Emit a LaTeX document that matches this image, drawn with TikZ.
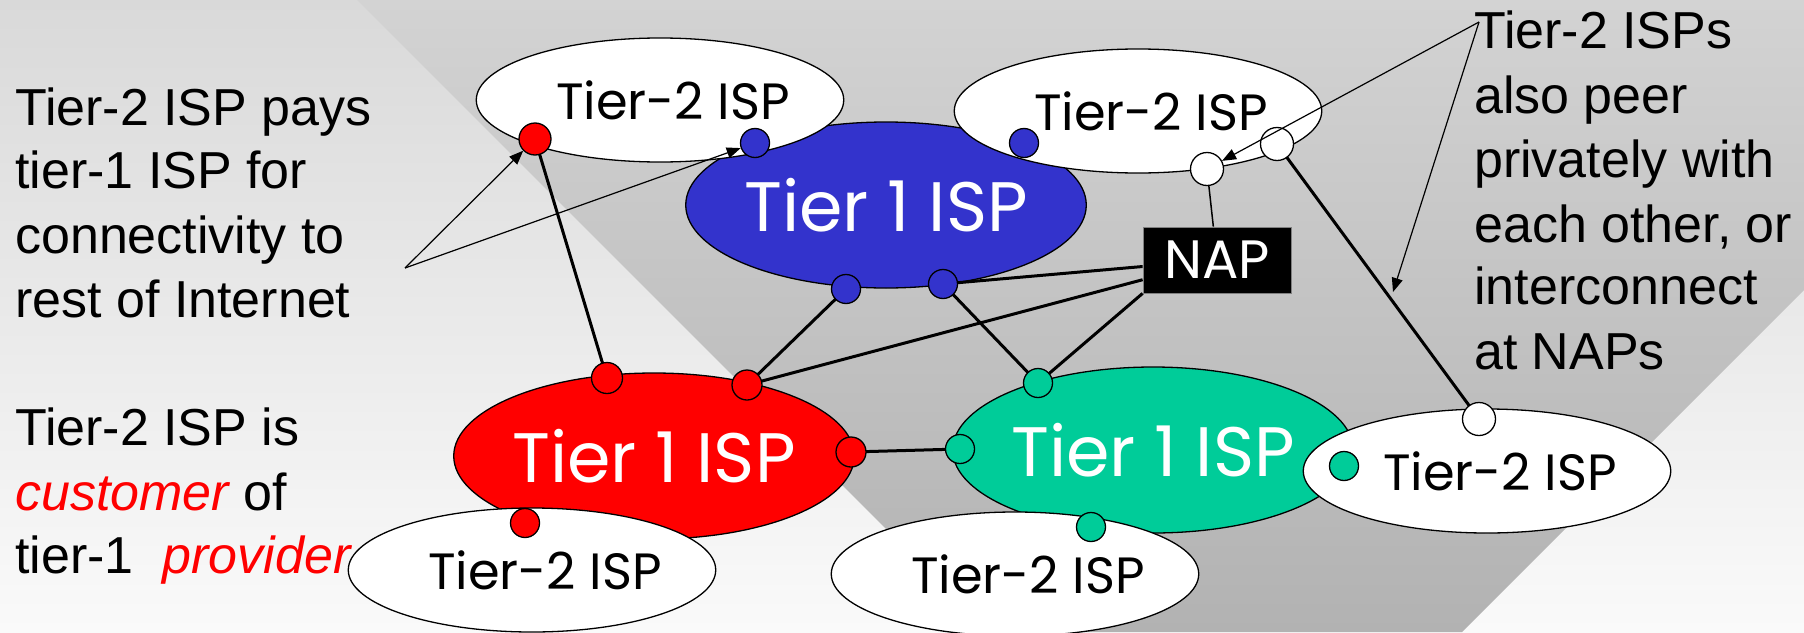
\documentclass[tikz,border=0pt]{standalone}
\usepackage{fontspec}
\setmainfont{Liberation Sans}
\newfontfamily\comic{Poppins}
\usetikzlibrary{arrows.meta,shapes.geometric}
\definecolor{bgtop}{HTML}{D9D9D9}
\definecolor{bgbot}{HTML}{FAFAFA}
\definecolor{dktop}{HTML}{D3D3D3}
\definecolor{dkbot}{HTML}{B2B2B2}
\definecolor{ispblue}{HTML}{3333CC}
\definecolor{ispred}{HTML}{FF0000}
\definecolor{ispgreen}{HTML}{00CC99}
\tikzset{
  tierone/.style={ellipse, draw=black, line width=1.3pt, inner sep=0pt,
    minimum width=392pt, minimum height=166pt, text=white,
    font=\comic\fontsize{70}{70}\selectfont},
  tiertwo/.style={ellipse, draw=black, fill=white, line width=1.3pt, inner sep=0pt,
    minimum width=352pt, minimum height=124pt, text=black,
    font=\comic\fontsize{51}{51}\selectfont},
  dot/.style={circle, draw=black, line width=1.3pt, inner sep=0pt, minimum size=30pt},
  link/.style={line width=3pt, black},
  thinlink/.style={line width=1.5pt, black},
  pointer/.style={line width=1.2pt, black, -{Triangle[length=14pt,width=11pt]}},
  note/.style={anchor=base west, inner sep=0pt, text=black,
    font=\fontsize{52}{64}\selectfont},
  napbox/.style={rectangle, fill=black, draw=gray, line width=0.8pt, inner sep=0pt,
    minimum width=148pt, minimum height=66pt, text=white,
    font=\comic\fontsize{54}{54}\selectfont}
}
\begin{document}
\begin{tikzpicture}[x=1pt,y=-1pt]
\useasboundingbox (0,0) rectangle (1804,632);
% background
\shade[top color=bgtop, bottom color=bgbot] (0,0) rectangle (1804,632);
\shade[top color=dktop, bottom color=dkbot]
  (357,0) -- (1804,0) -- (1804,290) -- (1462,632) -- (989,632) -- cycle;

% tier-1 ISPs
\node[tierone, fill=ispblue] (blue) at (886,205) {Tier 1 ISP};
\node[tierone, fill=ispred] (red) at (654,456) {Tier 1 ISP};
\node[tierone, fill=ispgreen] (green) at (1153,450) {Tier 1 ISP};

% tier-2 ISPs
\node[tiertwo] (ttl) at (660,100) {\hspace*{26pt}Tier-2 ISP};
\node[tiertwo] (ttr) at (1138,111) {\hspace*{26pt}Tier-2 ISP};
\node[tiertwo] (tbl) at (532,570) {\hspace*{26pt}Tier-2 ISP};
\node[tiertwo] (tbm) at (1015,574) {\hspace*{26pt}Tier-2 ISP};
\node[tiertwo] (tbr) at (1487,471) {\hspace*{26pt}Tier-2 ISP};

% NAP
\node[napbox] (nap) at (1217,260) {NAP};

% dot positions
\coordinate (pRtl) at (535,139);
\coordinate (pBtl) at (755,143);
\coordinate (pBtr) at (1024,143);
\coordinate (pW1) at (1207,169);
\coordinate (pW2) at (1277,144);
\coordinate (pBa) at (846,289);
\coordinate (pBb) at (943,284);
\coordinate (pR1) at (607,378);
\coordinate (pR2) at (747,385);
\coordinate (pR3) at (851,452);
\coordinate (pR4) at (525,523);
\coordinate (pG1) at (1038,383);
\coordinate (pG2) at (960,449);
\coordinate (pG3) at (1091,527);
\coordinate (pG4) at (1344,466);
\coordinate (pW3) at (1479,419);

% links
\draw[link] (pRtl) -- (pR1);
\draw[link] (pBa) -- (pR2);
\draw[link] (pBb) -- (pG1);
\draw[link] (pBb) -- (nap);
\draw[link] (pR2) -- (nap);
\draw[link] (pG1) -- (nap.south west);
\draw[link] (pR3) -- (pG2);
\draw[link] (pW2) -- (pW3);
\draw[thinlink] (pW1) -- (nap);

% dots
\node[dot, fill=ispred, minimum size=32pt] (dRtl) at (pRtl) {};
\node[dot, fill=ispblue, minimum size=29pt] (dBtl) at (pBtl) {};
\node[dot, fill=ispblue, minimum size=29pt] (dBtr) at (pBtr) {};
\node[dot, fill=white, minimum size=33pt] (dW1) at (pW1) {};
\node[dot, fill=white, minimum size=33pt] (dW2) at (pW2) {};
\node[dot, fill=ispblue, minimum size=29pt] (dBa) at (pBa) {};
\node[dot, fill=ispblue, minimum size=29pt] (dBb) at (pBb) {};
\node[dot, fill=ispred, minimum size=31pt] (dR1) at (pR1) {};
\node[dot, fill=ispred, minimum size=30pt] (dR2) at (pR2) {};
\node[dot, fill=ispred, minimum size=30pt] (dR3) at (pR3) {};
\node[dot, fill=ispred, minimum size=29pt] (dR4) at (pR4) {};
\node[dot, fill=ispgreen, minimum size=29pt] (dG1) at (pG1) {};
\node[dot, fill=ispgreen, minimum size=29pt] (dG2) at (pG2) {};
\node[dot, fill=ispgreen, minimum size=29pt] (dG3) at (pG3) {};
\node[dot, fill=ispgreen, minimum size=29pt] (dG4) at (pG4) {};
\node[dot, fill=white, minimum size=33pt] (dW3) at (pW3) {};

% pointers
\coordinate (aL) at (405,268);
\coordinate (aR) at (1479,22);
\coordinate (aRend) at (1393,292);
\draw[pointer] (aL) -- (dRtl);
\draw[pointer] (aL) -- (dBtl);
\draw[pointer] (aR) -- (dW1);
\draw[pointer] (aR) -- (aRend);

% left notes
\node[note] (l1) at (15,125) {Tier-2 ISP pays};
\node[note] (l2) at (15,188) {tier-1 ISP for};
\node[note] (l3) at (15,253) {connectivity to};
\node[note] (l4) at (15,317) {rest of Internet};
\node[note] (l5) at (15,445) {Tier-2 ISP is};
\node[note] (l6) at (15,510) {\textcolor{ispred}{\itshape customer} of};
\node[note] (l7) at (15,573) {tier-1 \ \textcolor{ispred}{\itshape provider}};

% right notes
\node[note] (r1) at (1474,48) {Tier-2 ISPs};
\node[note] (r2) at (1474,113) {also peer};
\node[note] (r3) at (1474,177) {privately with};
\node[note] (r4) at (1474,242) {each other, or};
\node[note] (r5) at (1474,304) {interconnect};
\node[note] (r6) at (1474,369) {at NAPs};
\end{tikzpicture}
\end{document}
